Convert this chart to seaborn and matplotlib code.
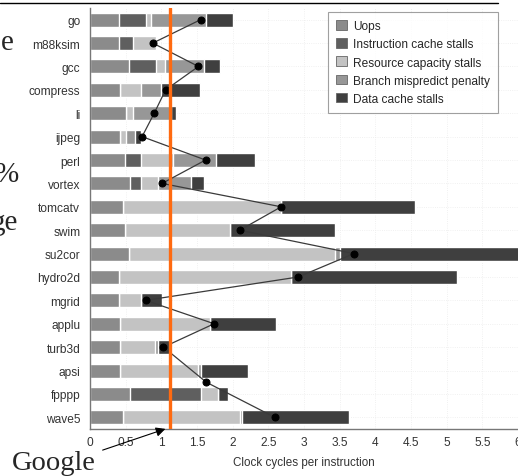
import matplotlib
matplotlib.use("Agg")
import matplotlib.pyplot as plt
from matplotlib.patches import Patch
from matplotlib.lines import Line2D
import seaborn as sns
import numpy as np
import pandas as pd

benchmarks = ["go", "m88ksim", "gcc", "compress", "li", "ijpeg", "perl", "vortex",
              "tomcatv", "swim", "su2cor", "hydro2d", "mgrid", "applu", "turb3d",
              "apsi", "fpppp", "wave5"]
uops = [0.41, 0.40, 0.55, 0.42, 0.50, 0.42, 0.49, 0.56, 0.46, 0.49, 0.54, 0.41,
        0.41, 0.42, 0.42, 0.42, 0.56, 0.46]
icache = [0.37, 0.20, 0.38, 0.00, 0.00, 0.00, 0.23, 0.16, 0.00, 0.00, 0.00, 0.00,
          0.00, 0.00, 0.00, 0.00, 1.00, 0.00]
resource = [0.08, 0.32, 0.12, 0.30, 0.10, 0.09, 0.45, 0.24, 2.22, 1.47, 2.89, 2.41,
            0.31, 1.26, 0.49, 1.10, 0.23, 1.64]
branch = [0.77, 0.00, 0.55, 0.28, 0.54, 0.12, 0.59, 0.45, 0.00, 0.00, 0.07, 0.00,
          0.00, 0.00, 0.04, 0.04, 0.00, 0.03]
dcache = [0.37, 0.00, 0.22, 0.54, 0.06, 0.09, 0.56, 0.19, 1.87, 1.48, 2.80, 2.33,
          0.29, 0.93, 0.20, 0.65, 0.14, 1.50]
measured_cpi = [1.55, 0.88, 1.52, 1.06, 0.90, 0.73, 1.62, 1.01, 2.68, 2.10, 3.70,
                2.92, 0.78, 1.74, 1.03, 1.63, 1.63, 2.59]
google_cpi = 1.12

components = ["Uops", "Instruction cache stalls", "Resource capacity stalls",
              "Branch mispredict penalty", "Data cache stalls"]
colors = ["#8b8b8b", "#5f5f5f", "#c3c3c3", "#979797", "#3f3f3f"]

sns.set_style("white")
plt.rcParams["font.family"] = ["Liberation Sans", "DejaVu Sans"]

df = pd.DataFrame({"bench": benchmarks, "Uops": uops,
                   "Instruction cache stalls": icache,
                   "Resource capacity stalls": resource,
                   "Branch mispredict penalty": branch,
                   "Data cache stalls": dcache})
cum = df[components].cumsum(axis=1)

fig = plt.figure(figsize=(5.18, 4.77), dpi=100)
ax = fig.add_axes([90 / 518, 1 - 430 / 477, 428 / 518, 421 / 477])

# stacked bars: draw cumulative totals from the outermost segment inward
for comp, col in reversed(list(zip(components, colors))):
    sns.barplot(x=cum[comp], y=df["bench"], orient="h", color=col, width=0.6,
                saturation=1, ax=ax, zorder=2)

ypos = np.arange(len(benchmarks))
sns.lineplot(x=measured_cpi, y=ypos, sort=False, color="#3a3a3a", lw=0.9,
             marker="o", markersize=5, markerfacecolor="black",
             markeredgecolor="black", ax=ax, zorder=4)

ax.axvline(google_cpi, color="#ff6a10", lw=2.4, zorder=5)

ax.set_xlim(0, 6)
ax.set_ylim(len(benchmarks) - 0.5, -0.5)
ax.set_xticks(np.arange(0, 6.01, 0.5))
ax.set_xticklabels(["0", "0.5", "1", "1.5", "2", "2.5", "3", "3.5", "4", "4.5",
                    "5", "5.5", "6"])
ax.set_yticks(ypos)
ax.set_yticks(np.arange(-0.5, len(benchmarks), 1), minor=True)
ax.tick_params(axis="y", which="major", length=0, pad=7, labelsize=8.6,
               labelcolor="#333333")
ax.tick_params(axis="y", which="minor", direction="in", length=3, color="#666666")
ax.tick_params(axis="x", direction="in", length=3, color="#666666",
               labelsize=8.6, labelcolor="#333333", pad=5)
ax.set_xlabel("Clock cycles per instruction", fontsize=8.4, color="#333333",
              labelpad=6)
ax.set_ylabel("")
ax.grid(True, color="#ececec", linestyle=":", lw=0.6, zorder=0)
ax.set_axisbelow(True)
for s in ["top", "right"]:
    ax.spines[s].set_visible(False)
for s in ["left", "bottom"]:
    ax.spines[s].set_color("#777777")
    ax.spines[s].set_linewidth(1.0)

handles = [Patch(facecolor=c, edgecolor="#666666", lw=0.6, label=l)
           for c, l in zip(colors, components)]
leg = fig.legend(handles=handles, loc="upper left",
                 bbox_to_anchor=(328 / 518, 1 - 13 / 477), borderaxespad=0,
                 fontsize=8.6, frameon=True, fancybox=False, handlelength=0.9,
                 handleheight=0.9, handletextpad=0.5, labelspacing=0.5,
                 borderpad=0.7)
leg.get_frame().set_edgecolor("#888888")
leg.get_frame().set_linewidth(0.8)

# slide elements around the chart
fig.add_artist(Line2D([0, 498 / 518], [1 - 4 / 477, 1 - 4 / 477],
                      color="black", lw=1.0, transform=fig.transFigure))
serif = ["Liberation Serif", "DejaVu Serif"]
fig.text(12 / 518, 1 - 470 / 477, "Google", family=serif, fontsize=20.5,
         va="baseline", ha="left")
fig.text(14 / 518, 1 - 50 / 477, "e", family=serif, fontsize=21, va="baseline",
         ha="right")
fig.text(19 / 518, 1 - 182 / 477, "%", family=serif, fontsize=21,
         va="baseline", ha="right")
fig.text(18 / 518, 1 - 230 / 477, "ge", family=serif, fontsize=21,
         va="baseline", ha="right")
fig.add_artist(plt.Annotation("", xy=(168 / 518, 1 - 429 / 477),
                              xytext=(100 / 518, 1 - 452 / 477),
                              xycoords="figure fraction",
                              textcoords="figure fraction",
                              arrowprops=dict(arrowstyle="-|>", color="black",
                                              lw=0.8, mutation_scale=14)))

fig.savefig("out.png", dpi=100)
